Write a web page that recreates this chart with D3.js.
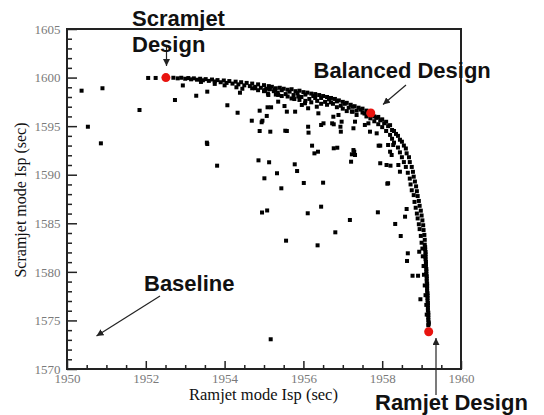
<!DOCTYPE html>
<html>
<head>
<meta charset="utf-8">
<script src="https://cdn.jsdelivr.net/npm/d3@7"></script>
<style>
  body { margin: 0; background: #fff; }
  .tick text { font-family: "Liberation Serif", "Times New Roman", serif; font-size: 13px; fill: #7a7a7a; }
  .note { font-family: "Liberation Sans", Arial, sans-serif; font-size: 22px; font-weight: bold; fill: #111; }
  .axis-title { font-family: "Liberation Serif", "Times New Roman", serif; font-size: 16px; fill: #111; }
</style>
</head>
<body>
<svg id="chart" width="544" height="415"></svg>
<script>
// Datos
const xTicks = [1950, 1952, 1954, 1956, 1958, 1960];
const yTicks = [1570, 1575, 1580, 1585, 1590, 1595, 1600, 1605];

// frente de Pareto (banda densa)
const frontierPoints = [
  [1952.06,1599.96],[1952.25,1599.96],[1952.7,1599.98],[1952.81,1599.92],[1952.9,1599.98],
  [1953.0,1599.88],[1953.08,1599.95],[1953.15,1599.82],[1953.22,1599.92],[1953.3,1599.78],
  [1953.38,1599.88],[1953.45,1599.72],[1953.52,1599.84],[1953.6,1599.66],[1953.68,1599.8],
  [1953.75,1599.6],[1953.82,1599.74],[1953.9,1599.52],[1953.98,1599.7],[1954.05,1599.45],
  [1954.12,1599.64],[1954.2,1599.38],[1954.28,1599.58],[1954.35,1599.3],[1954.42,1599.52],
  [1954.5,1599.2],[1954.56,1599.45],[1954.64,1599.12],[1954.7,1599.38],[1954.78,1599.05],
  [1954.85,1599.3],[1954.92,1598.95],[1955.0,1599.22],[1955.06,1598.85],[1955.12,1599.12],
  [1953.4,1599.55],[1953.75,1599.35],[1954.0,1599.2],[1954.3,1599.0],[1954.45,1598.85],
  [1955.15,1598.8],[1955.2,1599.05],[1955.25,1598.6],[1955.3,1598.9],[1955.35,1598.45],
  [1955.4,1598.95],[1955.45,1598.7],[1955.5,1598.85],[1955.55,1598.3],[1955.6,1598.75],
  [1955.65,1598.55],[1955.7,1598.8],[1955.75,1598.2],[1955.8,1598.6],[1955.85,1598.4],
  [1955.9,1598.65],[1955.95,1598.0],[1956.0,1598.5],[1956.05,1598.25],[1956.1,1598.45],
  [1956.15,1597.8],[1956.2,1598.35],[1956.25,1598.1],[1956.3,1598.3],[1956.35,1597.6],
  [1956.4,1598.2],[1956.45,1597.9],[1956.5,1598.1],[1956.55,1597.5],[1956.6,1598.0],
  [1956.65,1597.75],[1956.7,1597.9],[1956.75,1597.3],[1956.8,1597.8],[1956.85,1597.55],
  [1956.9,1597.65],[1956.95,1597.1],[1957.0,1597.5],[1957.05,1597.3],[1957.1,1597.4],
  [1957.15,1596.9],[1957.2,1597.2],[1957.25,1597.0],[1957.3,1597.05],[1957.35,1596.6],
  [1957.4,1596.9],[1957.45,1596.7],[1957.5,1596.8],[1957.55,1596.3],[1957.6,1596.6],
  [1957.65,1596.2],[1957.75,1596.2],[1957.8,1596.0],[1957.85,1595.85],[1957.9,1595.95],
  [1957.95,1595.6],[1958.0,1595.7],[1958.05,1595.3],[1958.1,1595.45],[1958.15,1595.0],
  [1958.2,1595.1],[1958.25,1594.6],[1958.3,1594.5],[1958.35,1594.2],[1958.4,1594.0],
  [1958.45,1593.6],[1958.5,1593.4],[1958.55,1593.0],[1958.6,1592.7],[1958.62,1592.2],
  [1958.68,1591.8],[1958.7,1591.3],[1958.75,1590.8],[1958.78,1590.3],[1958.8,1589.8],
  [1958.83,1589.3],[1958.86,1588.8],[1958.88,1588.3],[1958.9,1587.8],[1958.93,1587.3],
  [1958.95,1586.8],[1958.98,1586.3],[1959.0,1585.8],[1959.02,1585.3],[1959.04,1584.8],
  [1959.05,1584.3],[1959.07,1583.8],[1959.08,1583.3],[1959.08,1582.8],[1959.09,1582.3],
  [1959.1,1581.8],[1959.1,1581.3],[1959.11,1580.8],[1959.12,1580.3],[1959.12,1579.8],
  [1959.13,1579.3],[1959.14,1578.8],[1959.14,1578.3],[1959.15,1577.8],[1959.15,1577.3],
  [1959.16,1576.8],[1959.16,1576.3],[1959.17,1575.8],[1959.17,1575.3],[1959.18,1574.8],
  [1959.17,1574.5],
  [1959.09,1582.55],[1959.1,1582.05],[1959.1,1581.55],[1959.11,1581.05],[1959.11,1580.55],
  [1959.12,1580.05],[1959.13,1579.55],[1959.13,1579.05],[1959.14,1578.55],[1959.14,1578.05],
  [1959.15,1577.55],[1959.15,1577.05],[1959.16,1576.55],[1959.16,1576.05],[1959.17,1575.55],
  [1959.17,1575.05],[1959.18,1574.65],
  [1957.5,1596.4],[1957.6,1596.0],[1957.7,1595.8],[1957.8,1595.5],[1957.9,1595.2],
  [1958.0,1594.9],[1958.1,1594.5],[1958.2,1594.1],[1958.25,1593.7],[1958.3,1593.3],
  [1958.4,1592.8],[1958.45,1592.3],[1958.5,1591.8],[1958.55,1591.3],[1958.6,1590.8],
  [1958.65,1590.2],[1958.7,1589.6],[1958.72,1589.0],[1958.75,1588.4],[1958.8,1587.9],
  [1958.82,1587.2],[1958.85,1586.6],[1958.88,1586.0],[1958.9,1585.5],[1958.93,1584.9],
  [1958.95,1584.4],[1958.98,1583.7],[1959.0,1583.0],[1959.02,1582.4],[1959.03,1581.6],
  [1959.05,1580.6],[1959.06,1579.7],[1959.08,1578.6],[1959.1,1577.6],[1959.12,1576.6],
  [1959.13,1575.6],
  [1954.7,1598.9],[1954.85,1598.7],[1955.0,1598.6],[1955.1,1598.35],[1955.3,1598.25],
  [1955.45,1598.1],[1955.6,1598.05],[1955.7,1597.85],[1955.9,1597.7],[1956.05,1597.6],
  [1956.2,1597.45],[1956.3,1597.9],[1956.45,1597.3],[1956.6,1597.2],[1956.7,1597.45],
  [1956.85,1596.95],[1957.0,1596.8],[1957.1,1596.55],[1957.25,1596.5],[1957.35,1596.15]
];

// disenos dispersos (interior)
const interiorPoints = [
  [1950.37,1598.65],[1950.9,1598.9],[1950.53,1594.94],[1950.86,1593.23],[1951.84,1596.66],
  [1952.74,1597.69],[1952.94,1599.19],[1953.28,1598.13],[1953.56,1598.55],[1953.55,1593.3],
  [1953.56,1593.16],[1953.81,1590.93],[1954.07,1597.15],[1954.33,1596.38],[1954.39,1598.44],
  [1954.69,1595.56],[1954.89,1596.59],[1955.07,1596.05],[1954.96,1595.56],[1954.89,1594.5],
  [1955.16,1594.43],[1954.86,1591.48],[1955.13,1591.28],[1955.01,1589.63],[1954.95,1586.11],
  [1955.08,1586.32],[1955.17,1573.06],[1956.45,1586.71],[1956.11,1586.03],[1955.56,1583.21],
  [1956.36,1582.73],[1956.81,1584.07],[1957.18,1585.34],[1957.89,1586.13],[1958.33,1584.93],
  [1958.47,1583.69],[1958.58,1585.68],[1958.62,1586.47],[1958.65,1581.91],[1958.63,1581.12],
  [1958.77,1579.6],[1958.91,1579.6],[1958.97,1577.18],[1958.94,1582.07],
  [1956.22,1592.99],[1956.37,1592.37],[1956.28,1592.2],[1956.77,1592.72],[1956.86,1592.78],
  [1957.29,1592.37],[1957.23,1592.1],[1957.21,1591.34],[1955.78,1591.07],[1955.84,1590.38],
  [1955.33,1590.15],[1956.01,1589.15],[1956.5,1589.18],[1955.44,1588.6],[1956.12,1594.94],
  [1956.13,1594.33],[1956.45,1595.12],[1956.77,1595.19],[1956.94,1594.94],[1955.54,1594.53],
  [1957.91,1592.99],[1957.95,1592.99],[1957.95,1591.18],[1958.13,1589.08],[1958.21,1590.93],
  [1954.94,1595.4],[1955.09,1596.94],[1955.18,1596.94],[1955.36,1597.52],[1955.52,1597.07],
  [1955.58,1596.49],[1955.79,1596.49],[1955.58,1594.5],[1955.96,1597.18],[1956.04,1597.35],
  [1956.12,1596.84],[1956.34,1597.0],[1956.38,1596.32],[1956.51,1595.29],[1956.73,1595.29],
  [1956.76,1595.97],[1956.89,1596.15],[1956.97,1595.46],[1956.95,1594.43],[1955.77,1597.79],
  [1955.87,1598.05],[1955.36,1598.21],[1955.11,1598.21],[1955.28,1598.73],[1955.03,1598.73],
  [1954.77,1598.9],[1957.23,1596.49],[1957.31,1595.46],[1957.27,1594.78],[1957.56,1595.12],
  [1957.65,1595.29],[1957.69,1594.43],[1957.86,1594.26],[1958.15,1593.06],[1958.2,1592.37],
  [1958.24,1592.03],[1957.27,1592.54],[1957.31,1592.03],[1958.11,1591.0],[1958.41,1591.0],
  [1958.45,1590.31],[1958.15,1589.12],[1958.28,1593.06]
];

// disenos seleccionados (rojo)
const designNames = ["Scramjet", "Balanced", "Ramjet"];
const designPoints = [[1952.51, 1600.0], [1957.71, 1596.35], [1959.18, 1573.84]];

const svg = d3.select("#chart");
const margin = { left: 67, top: 29, right: 83, bottom: 46 };
const width = 544 - margin.left - margin.right;
const height = 415 - margin.top - margin.bottom;

const x = d3.scaleLinear().domain([1950, 1960]).range([margin.left, margin.left + width]);
const y = d3.scaleLinear().domain([1570, 1605]).range([margin.top + height, margin.top]);

// ticks menores
const xMinor = d3.range(1950, 1960.01, 0.5).filter(v => !xTicks.includes(v));
const yMinor = d3.range(1570, 1605.01, 1).filter(v => !yTicks.includes(v));

const xAxisMinor = svg.append("g")
    .attr("transform", "translate(0," + (margin.top + height) + ")")
    .call(d3.axisBottom(x).tickValues(xMinor).tickSize(-4).tickFormat(""));
const yAxisMinor = svg.append("g")
    .attr("transform", "translate(" + margin.left + ",0)")
    .call(d3.axisLeft(y).tickValues(yMinor).tickSize(-5).tickFormat(""));

const xAxis = svg.append("g")
    .attr("transform", "translate(0," + (margin.top + height) + ")")
    .call(d3.axisBottom(x).tickValues(xTicks).tickSize(-8).tickPadding(5).tickFormat(d3.format("d")));
const yAxis = svg.append("g")
    .attr("transform", "translate(" + margin.left + ",0)")
    .call(d3.axisLeft(y).tickValues(yTicks).tickSize(-10).tickPadding(6.5).tickFormat(d3.format("d")));

[xAxisMinor, yAxisMinor, xAxis, yAxis].forEach(function (g) {
    g.select(".domain").remove();
    g.selectAll(".tick line").attr("stroke", "#222").attr("stroke-width", 1.5);
});

// marco
svg.append("rect")
    .attr("x", margin.left).attr("y", margin.top)
    .attr("width", width).attr("height", height)
    .attr("fill", "none").attr("stroke", "#222").attr("stroke-width", 2);

// puntos
const allPoints = frontierPoints.concat(interiorPoints);
svg.append("g").selectAll("rect")
    .data(allPoints)
    .enter().append("rect")
    .attr("x", d => x(d[0]) - 2)
    .attr("y", d => y(d[1]) - 2)
    .attr("width", 4).attr("height", 4)
    .attr("fill", "#000");

svg.append("g").selectAll("circle")
    .data(designPoints)
    .enter().append("circle")
    .attr("cx", d => x(d[0]))
    .attr("cy", d => y(d[1]))
    .attr("r", 4.5)
    .attr("fill", "#e8140f");

// titulos de ejes
svg.append("text").attr("class", "axis-title")
    .attr("x", 263.5).attr("y", 400).attr("text-anchor", "middle")
    .style("font-size", "16.5px")
    .text("Ramjet mode Isp (sec)");
svg.append("text").attr("class", "axis-title")
    .attr("transform", "translate(26,200) rotate(-90)")
    .attr("text-anchor", "middle")
    .text("Scramjet mode Isp (sec)");

// flechas y notas
svg.append("defs").append("marker")
    .attr("id", "arrow")
    .attr("viewBox", "0 0 10 10")
    .attr("refX", 10).attr("refY", 5)
    .attr("markerWidth", 7).attr("markerHeight", 7)
    .attr("markerUnits", "userSpaceOnUse")
    .attr("orient", "auto")
    .append("path").attr("d", "M0,0 L10,5 L0,10 z").attr("fill", "#222");

const arrows = [
    [166.5, 46, 166.5, 66],
    [406, 85, 383, 104.5],
    [160, 296, 96.5, 336],
    [436, 395, 436, 338]
];
svg.append("g").selectAll("line")
    .data(arrows)
    .enter().append("line")
    .attr("x1", d => d[0]).attr("y1", d => d[1])
    .attr("x2", d => d[2]).attr("y2", d => d[3])
    .attr("stroke", "#222").attr("stroke-width", 1.2)
    .attr("marker-end", "url(#arrow)");

const notes = [
    ["Scramjet", 132, 26],
    ["Design", 132, 52],
    ["Balanced Design", 313.5, 77.5],
    ["Baseline", 144, 290.5],
    ["Ramjet Design", 375, 410]
];
svg.append("g").selectAll("text")
    .data(notes)
    .enter().append("text")
    .attr("class", "note")
    .attr("x", d => d[1]).attr("y", d => d[2])
    .text(d => d[0]);
</script>
</body>
</html>
